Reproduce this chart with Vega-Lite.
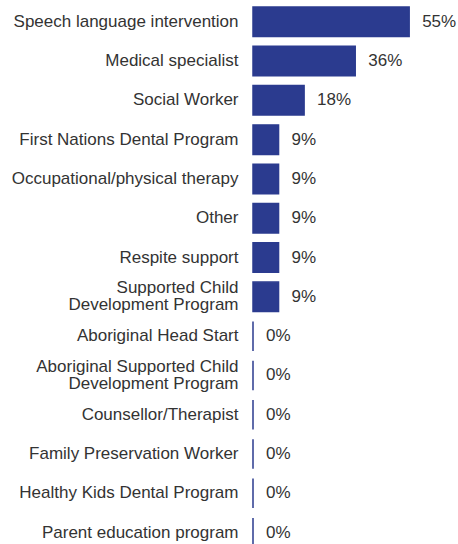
{
  "$schema": "https://vega.github.io/schema/vega-lite/v6.json",
  "autosize": "none",
  "width": 205,
  "height": 537,
  "padding": {"left": 253, "top": 7, "right": 0, "bottom": 0},
  "background": "white",
  "config": {"view": {"stroke": null}, "font": "Liberation Sans"},
  "data": {"values": [
    {"service": "Speech language intervention", "pct": 55, "order": 1},
    {"service": "Medical specialist", "pct": 36, "order": 2},
    {"service": "Social Worker", "pct": 18, "order": 3},
    {"service": "First Nations Dental Program", "pct": 9, "order": 4},
    {"service": "Occupational/physical therapy", "pct": 9, "order": 5},
    {"service": "Other", "pct": 9, "order": 6},
    {"service": "Respite support", "pct": 9, "order": 7},
    {"service": "Supported Child|Development Program", "pct": 9, "order": 8},
    {"service": "Aboriginal Head Start", "pct": 0, "order": 9},
    {"service": "Aboriginal Supported Child|Development Program", "pct": 0, "order": 10},
    {"service": "Counsellor/Therapist", "pct": 0, "order": 11},
    {"service": "Family Preservation Worker", "pct": 0, "order": 12},
    {"service": "Healthy Kids Dental Program", "pct": 0, "order": 13},
    {"service": "Parent education program", "pct": 0, "order": 14}
  ]},
  "encoding": {
    "y": {
      "field": "service", "type": "nominal",
      "sort": {"field": "order", "order": "ascending"},
      "scale": {"paddingInner": 0.25, "paddingOuter": 0, "range": [0, 540.4]},
      "axis": {
        "title": null, "domain": false, "ticks": false,
        "labelFontSize": 17, "labelColor": "#333333", "labelPadding": 15,
        "labelLimit": 300, "labelLineHeight": 17,
        "labelOffset": {"condition": {"test": "indexof(datum.label, '|') >= 0", "value": -8.5}, "value": 0},
        "labelExpr": "split(datum.label, '|')"
      }
    },
    "x": {
      "field": "pct", "type": "quantitative",
      "scale": {"domain": [0, 72.2], "nice": false},
      "axis": null
    }
  },
  "layer": [
    {"mark": {"type": "bar", "color": "#2b3b8f", "stroke": "#2b3b8f", "strokeWidth": 1.5}},
    {"mark": {"type": "text", "align": "left", "baseline": "middle", "dx": 13, "fontSize": 17, "color": "#333333", "text": {"expr": "datum.pct + '%'"}}}
  ]
}
